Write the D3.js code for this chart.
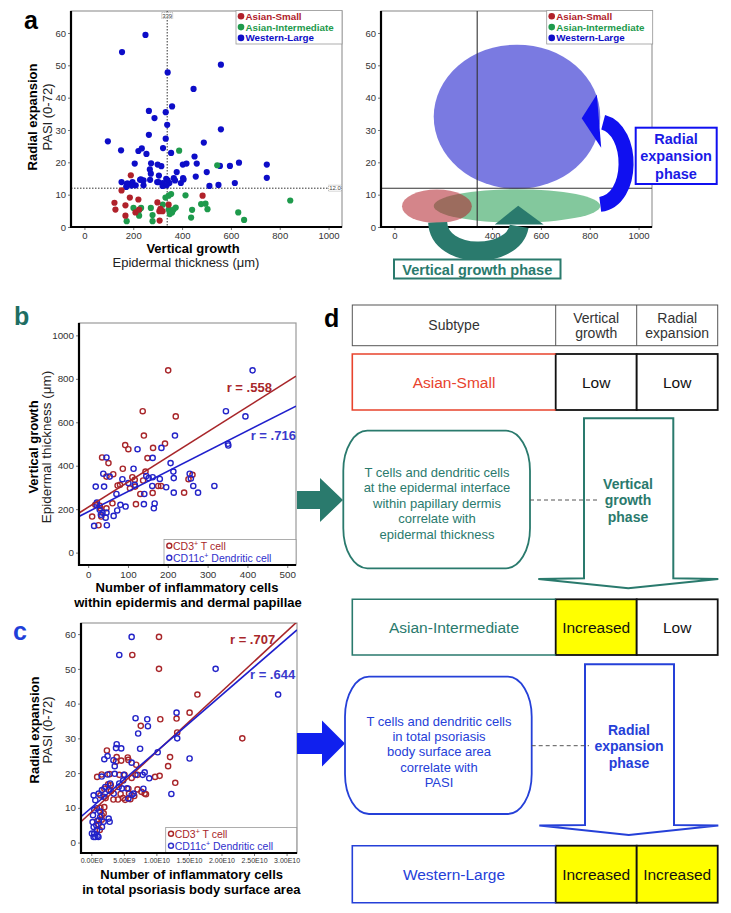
<!DOCTYPE html>
<html><head><meta charset="utf-8">
<script src="https://cdn.jsdelivr.net/npm/d3@7"></script>
<style>body{margin:0;background:#fff}svg{display:block}</style>
</head><body>
<script>
// ---------------- DATA ----------------
// Panel a: [epidermal thickness (µm), PASI]
const groups = ["Asian-Small", "Asian-Intermediate", "Western-Large"];
const asianSmall = [[190,16.0],[152,11.3],[484,9.7],[186,9.1],[221,8.5],[123,7.5],[168,6.7],[299,7.6],[345,6.9],[127,5.4],[209,4.5],[224,5.4],[311,5.6],[320,4.9],[307,4.9],[168,3.5],[308,2.0],[315,5.0]];
const asianIntermediate = [[388,23.6],[544,19.1],[355,10.2],[345,9.7],[332,9.1],[414,9.8],[843,8.2],[321,6.9],[478,7.1],[496,7.2],[504,5.5],[441,5.3],[201,5.9],[224,5.2],[232,5.9],[272,5.9],[345,5.4],[354,4.9],[365,5.4],[374,6.0],[350,4.0],[359,4.5],[630,4.5],[224,3.5],[279,3.7],[437,2.9],[654,2.2],[173,1.8],[279,1.8]];
const westernLarge = [[250,59.4],[154,54.1],[559,50.2],[341,47.8],[447,42.7],[264,35.9],[359,37.3],[333,35.5],[287,33.7],[339,31.6],[559,30.2],[264,28.5],[333,27.3],[96,26.5],[489,26.1],[150,23.7],[221,23.5],[235,24.3],[322,24.4],[254,22.6],[355,22.9],[451,21.8],[206,19.6],[273,19.7],[300,19.3],[315,18.8],[403,19.3],[418,19.6],[460,19.6],[555,18.9],[596,18.9],[633,19.9],[747,19.3],[268,17.8],[378,17.0],[501,17.0],[456,15.6],[272,16.5],[305,15.9],[404,15.1],[366,15.1],[335,14.9],[341,14.4],[152,13.9],[228,14.6],[242,14.4],[197,13.9],[178,13.4],[210,12.9],[171,12.4],[193,12.8],[242,12.9],[269,14.6],[298,13.9],[321,13.6],[348,13.6],[395,13.6],[320,12.7],[512,12.7],[549,13.0],[616,13.6],[747,15.2],[174,13.4],[231,14.7],[303,13.9],[337,12.9],[371,14.4],[406,14.7]];
const cutThickness = 339, cutPASI = 12.0;
const aXTicks = [0,200,400,600,800,1000];
const aYTicks = [0,10,20,30,40,50,60];
// Panel a right: ellipse summaries per group [Asian-Small, Asian-Intermediate, Western-Large]
const ellipseCX = [174, 502, 502];
const ellipseCY = [6.4, 6.5, 34.1];
const ellipseRX = [143, 341, 341];
const ellipseRY = [5.2, 5.2, 22.3];
// annotation arrows in data units of panel a
const vgArrowPath = [[177,1.45],[184,-10.2],[486,-10.2],[511,0.2]];
const vgArrowHead = [[411,0.8],[611,0.8],[507,6.6]];
const reArrowPath = [[843,7.0],[982,8.3],[982,29.9],[855,32.4]];
const reArrowHead = [[829,41.0],[847,24.5],[767,33.6]];

// Panel b: [number of cells, epidermal thickness]
const bTcell = [[201,839],[137,651],[140,539],[220,627],[93,495],[101,476],[163,482],[193,502],[149,435],[35,438],[51,412],[144,373],[87,386],[63,361],[46,350],[111,347],[117,335],[138,332],[80,312],[74,309],[105,296],[118,304],[176,307],[183,307],[131,270],[162,275],[241,276],[252,338],[262,358],[61,227],[120,223],[18,220],[29,215],[46,204],[10,166],[31,204],[26,126],[33,166]];
const bDcell = [[413,839],[346,651],[395,627],[218,539],[124,476],[184,482],[162,436],[46,438],[207,412],[114,386],[38,363],[54,350],[86,338],[101,320],[117,312],[146,353],[152,343],[162,347],[180,339],[214,373],[215,343],[255,363],[258,341],[264,307],[276,276],[317,307],[351,501],[352,493],[196,301],[215,276],[161,307],[141,270],[71,270],[73,194],[64,169],[94,212],[81,220],[140,223],[167,226],[165,204],[19,304],[40,304],[22,230],[29,197],[36,184],[46,184],[44,161],[15,123],[47,126],[21,220],[32,174]];
const bTFit = [209, 1.156], bDFit = [188, 0.932];   // [intercept, slope]
const bR = ["r = .558", "r = .716"];
const bXTicks = [0,100,200,300,400,500];
const bYTicks = [0,200,400,600,800,1000];

// Panel c: [number of cells (×1e9), PASI]
const cTcell = [[10.4,59.2],[6.3,54.0],[10.4,50.0],[16.3,42.6],[15.1,37.4],[13.1,35.7],[10.6,35.5],[13.2,31.7],[23.2,30.0],[7.6,33.6],[2.4,26.5],[3.8,23.3],[5.6,24.5],[5.7,23.8],[3.9,24.6],[4.6,23.6],[12.1,24.6],[11.8,22.0],[12.9,17.2],[10.5,19.2],[9.8,18.9],[7.1,19.5],[0.9,18.9],[1.6,19.6],[2.8,19.7],[4.3,19.5],[5.1,19.5],[1.4,13.6],[2.2,12.8],[3.4,12.4],[4.1,12.4],[4.9,12.8],[5.8,14.1],[6.6,13.4],[7.7,14.6],[8.2,14.1],[7.1,15.3],[5.7,15.5],[8.4,13.9],[6.9,22.4],[3.0,16.5],[2.0,15.5],[6.2,18.6],[1.9,8.4],[1.6,6.6],[1.4,10.0],[1.1,5.3],[0.9,6.2],[2.0,10.2],[1.3,3.6],[1.6,7.9],[3.0,14.8],[4.5,14.0],[5.2,12.3],[2.6,16.8],[6.0,12.5]];
const cDcell = [[6.2,59.2],[4.3,54.0],[19.1,50.0],[28.7,42.6],[15.1,24.2],[13.1,37.4],[13.2,30.0],[12.3,14.0],[6.8,35.8],[8.6,35.5],[8.7,33.5],[7.2,31.4],[7.5,27.0],[3.9,28.3],[3.8,27.2],[4.6,27.1],[2.0,24.0],[2.5,24.9],[3.4,23.7],[3.6,22.0],[6.2,23.0],[10.2,26.0],[7.9,19.5],[8.2,20.2],[8.9,18.5],[8.0,15.5],[6.8,19.5],[5.0,19.5],[3.6,19.8],[2.5,19.6],[1.6,19.0],[0.36,13.6],[0.62,12.2],[1.13,14.1],[2.15,16.0],[2.67,15.1],[3.44,14.1],[4.2,16.0],[4.7,15.6],[5.5,15.6],[6.2,13.7],[6.5,14.1],[5.7,12.7],[1.64,15.1],[2.9,17.0],[1.9,13.2],[4.9,17.9],[4.3,17.0],[0.2,5.9],[0.36,4.5],[0.46,2.6],[0.62,1.6],[0.87,3.5],[1.13,6.4],[0.26,7.9],[1.38,7.4],[0.77,5.0],[1.64,4.5],[2.67,6.9],[2.82,6.0],[0.36,1.6],[0.97,1.9],[1.9,6.0],[1.38,8.9],[0.87,9.9],[0.46,9.4],[0.1,2.6],[1.1,1.6]];
const cTFit = [8.74, 1.734], cDFit = [10.0, 1.62];   // PASI = a + b * cells(1e9)
const cR = ["r = .707", "r = .644"];
const cXTicks = [0, 5e9, 1e10, 1.5e10, 2e10, 2.5e10, 3e10];
const cXLabels = ["0.00E0","5.00E9","1.00E10","1.50E10","2.00E10","2.50E10","3.00E10"];
const cYTicks = [0,10,20,30,40,50,60];

// Panel d table
const tableHeader = ["Subtype", "Vertical\ngrowth", "Radial\nexpansion"];
const subtypes = ["Asian-Small", "Asian-Intermediate", "Western-Large"];
const verticalGrowth = ["Low", "Increased", "Increased"];
const radialExpansion = ["Low", "Low", "Increased"];
const vgText = ["T cells and dendritic cells","at the epidermal interface","within papillary dermis","correlate with","epidermal thickness"];
const reText = ["T cells and dendritic cells","in total psoriasis","body surface area","correlate with","PASI"];

// ---------------- DRAW ----------------
const FONT = '"Liberation Sans", Arial, Helvetica, sans-serif';
const svg = d3.select("body").append("svg").attr("width",731).attr("height",913).style("font-family",FONT);
const gColors = ["#b0212a","#1e9a4c","#0d0dc8"];
const TEAL = "#2a7a6d", DBLUE = "#2540d8", DRED = "#e8432d";
const RED = "#a8262a", BLUE = "#1f1fcc";

function T(x,y,s,o={}){
  const t = svg.append("text").attr("x",x).attr("y",y).text(s)
    .attr("font-size",o.size||12).attr("font-weight",o.bold?"bold":"normal")
    .attr("fill",o.fill||"#000").attr("text-anchor",o.anchor||"middle");
  if(o.rotate) t.attr("transform",`rotate(-90,${x},${y})`);
  return t;
}
let clipN = 0;
function frame(x,y){
  const [l,r]=x.range(), [b,t]=y.range();
  svg.append("rect").attr("x",l).attr("y",t).attr("width",r-l).attr("height",b-t)
    .attr("fill","#fff").attr("stroke","#9a9a9a").attr("stroke-width",1.2);
  const id = "clip"+(clipN++);
  svg.append("clipPath").attr("id",id).append("rect").attr("x",l).attr("y",t).attr("width",r-l).attr("height",b-t);
  return id;
}
function axes(x,y,xt,xl,yt,yl,fsx,fsy,xpad,ypad){
  const [l,r]=x.range(), [b,t]=y.range();
  const gx = svg.append("g").attr("transform",`translate(0,${b})`)
    .call(d3.axisBottom(x).tickValues(xt).tickFormat((d,i)=>xl[i]).tickSize(3).tickPadding(xpad));
  const gy = svg.append("g").attr("transform",`translate(${l},0)`)
    .call(d3.axisLeft(y).tickValues(yt).tickFormat((d,i)=>yl[i]).tickSize(3).tickPadding(ypad));
  gx.selectAll("text").attr("font-size",fsx);
  gy.selectAll("text").attr("font-size",fsy);
  [gx,gy].forEach(g=>{ g.select(".domain").remove(); g.selectAll("line").attr("stroke","#777");
    g.selectAll("text").attr("fill","#333").attr("font-family",FONT); });
  svg.append("line").attr("x1",l).attr("x2",l).attr("y1",t).attr("y2",b+1).attr("stroke","#000").attr("stroke-width",2.2);
  svg.append("line").attr("x1",l-1).attr("x2",r).attr("y1",b).attr("y2",b).attr("stroke","#000").attr("stroke-width",2.2);
}

// ===== Panel a (left) =====
const ax = d3.scaleLinear().domain([-55,1055]).range([71,342]);
const ay = d3.scaleLinear().domain([0,66.8]).range([227,11]);
frame(ax,ay);
svg.append("line").attr("x1",ax(cutThickness)).attr("x2",ax(cutThickness)).attr("y1",11).attr("y2",227)
  .attr("stroke","#333").attr("stroke-dasharray","1.5,1.5");
svg.append("line").attr("x1",71).attr("x2",342).attr("y1",ay(cutPASI)).attr("y2",ay(cutPASI))
  .attr("stroke","#333").attr("stroke-dasharray","1.5,1.5");
[westernLarge, asianIntermediate, asianSmall].forEach((arr,k)=>{
  const ci = 2-k;
  svg.append("g").selectAll("circle").data(arr).join("circle")
    .attr("cx",d=>ax(d[0])).attr("cy",d=>ay(d[1])).attr("r",3.1).attr("fill",gColors[ci]);
});
axes(ax,ay,aXTicks,aXTicks.map(String),aYTicks,aYTicks.map(String),9.5,9.5,2,2);
// reference value tags
svg.append("rect").attr("x",ax(cutThickness)-5.5).attr("y",12.5).attr("width",11).attr("height",6)
  .attr("fill","#fff").attr("stroke","#777").attr("stroke-width",0.6).attr("stroke-dasharray","1,1");
T(ax(cutThickness),17.5,String(cutThickness),{size:6,fill:"#444"});
svg.append("rect").attr("x",328.5).attr("y",ay(cutPASI)-3).attr("width",13).attr("height",6)
  .attr("fill","#fff").attr("stroke","#777").attr("stroke-width",0.6).attr("stroke-dasharray","1,1");
T(335,ay(cutPASI)+2.2,cutPASI.toFixed(1),{size:6,fill:"#444"});

function groupLegend(x0){
  svg.append("rect").attr("x",x0).attr("y",10.5).attr("width",106).attr("height",33.5)
    .attr("fill","#fff").attr("stroke","#999").attr("stroke-width",0.8);
  groups.forEach((g,i)=>{
    svg.append("circle").attr("cx",x0+5).attr("cy",16.3+i*10.8).attr("r",3.3).attr("fill",gColors[i]);
    T(x0+9.5,19.8+i*10.8,g,{size:9.8,bold:true,fill:gColors[i],anchor:"start"});
  });
}
groupLegend(236);

T(37,117,"Radial expansion",{size:13,bold:true,rotate:true});
T(52,117,"PASI (0-72)",{size:13,fill:"#222",rotate:true});
T(193,252.5,"Vertical growth",{size:13,bold:true});
T(186,267,"Epidermal thickness (\u03bcm)",{size:13,fill:"#222"});
T(24,29,"a",{size:25,bold:true,anchor:"start"});

// ===== Panel a (right) =====
const rx = d3.scaleLinear().domain([-55,1055]).range([381,652]);
const ry = ay;
frame(rx,ry);
[2,1,0].forEach(i=>{
  svg.append("ellipse").attr("cx",rx(ellipseCX[i])).attr("cy",ry(ellipseCY[i]))
    .attr("rx",rx(ellipseCX[i]+ellipseRX[i])-rx(ellipseCX[i]))
    .attr("ry",ry(0)-ry(ellipseRY[i]))
    .attr("fill",gColors[i]).attr("fill-opacity",0.55);
});
svg.append("line").attr("x1",rx(cutThickness)).attr("x2",rx(cutThickness)).attr("y1",11).attr("y2",227)
  .attr("stroke","#333").attr("stroke-width",1.1);
svg.append("line").attr("x1",381).attr("x2",652).attr("y1",ry(cutPASI)).attr("y2",ry(cutPASI))
  .attr("stroke","#333").attr("stroke-width",1.1);
axes(rx,ry,aXTicks,aXTicks.map(String),aYTicks,aYTicks.map(String),9.5,9.5,2,2);
groupLegend(546.7);

const cubic = pts => { const p = pts.map(d=>[rx(d[0]),ry(d[1])]);
  return `M${p[0]}C${p[1]} ${p[2]} ${p[3]}`; };
const tri = pts => "M"+pts.map(d=>[rx(d[0]),ry(d[1])].join(",")).join("L")+"Z";
svg.append("path").attr("d",cubic(vgArrowPath)).attr("fill","none").attr("stroke",TEAL).attr("stroke-width",19);
svg.append("path").attr("d",tri(vgArrowHead)).attr("fill",TEAL);
svg.append("path").attr("d",cubic(reArrowPath)).attr("fill","none").attr("stroke","#1010f0").attr("stroke-width",15);
svg.append("path").attr("d",tri(reArrowHead)).attr("fill","#1010f0");

svg.append("rect").attr("x",394).attr("y",259.5).attr("width",166.5).attr("height",19)
  .attr("fill","#fff").attr("stroke",TEAL).attr("stroke-width",2);
T(477.3,274.5,"Vertical growth phase",{size:14.5,bold:true,fill:TEAL});
svg.append("rect").attr("x",635.7).attr("y",127.7).attr("width",81).attr("height",56.3)
  .attr("fill","#fff").attr("stroke","#1010f0").attr("stroke-width",2);
["Radial","expansion","phase"].forEach((s,i)=>T(676,143.5+i*17.5,s,{size:14.5,bold:true,fill:"#1a1ae6"}));

// ===== Panel b =====
const bx = d3.scaleLinear().domain([-23,522]).range([79,296]);
const by = d3.scaleLinear().domain([-57,1057]).range([565,323]);
const bClip = frame(bx,by);
function fitLine(x,y,fit,col,clip){
  const [d0,d1]=x.domain();
  svg.append("line").attr("clip-path",`url(#${clip})`)
    .attr("x1",x(d0)).attr("y1",y(fit[0]+fit[1]*d0)).attr("x2",x(d1)).attr("y2",y(fit[0]+fit[1]*d1))
    .attr("stroke",col).attr("stroke-width",1.6);
}
function hollow(arr,x,y,col,scale=1){
  svg.append("g").selectAll("circle").data(arr).join("circle")
    .attr("cx",d=>x(d[0]*scale)).attr("cy",d=>y(d[1])).attr("r",2.6)
    .attr("fill","none").attr("stroke",col).attr("stroke-width",1.4);
}
hollow(bTcell,bx,by,"#a8262a");
hollow(bDcell,bx,by,"#2323c8");
fitLine(bx,by,bTFit,RED,bClip);
fitLine(bx,by,bDFit,BLUE,bClip);
T(226.7,392,bR[0],{size:13,bold:true,fill:"#a8262a",anchor:"start"});
T(250.7,440,bR[1],{size:13,bold:true,fill:"#3a3acc",anchor:"start"});
function cellLegend(x0,y0,x1,y1){
  svg.append("rect").attr("x",x0).attr("y",y0).attr("width",x1-x0).attr("height",y1-y0)
    .attr("fill","#fff").attr("stroke","#999").attr("stroke-width",0.8);
  const rows=[["CD3","+"," T cell","#a8262a"],["CD11c","+"," Dendritic cell","#3030cc"]];
  rows.forEach((r,i)=>{
    const cy = y0+6.2+i*12;
    svg.append("circle").attr("cx",x0+5.3).attr("cy",cy).attr("r",2.5).attr("fill","none").attr("stroke",r[3]).attr("stroke-width",1.4);
    const t = svg.append("text").attr("x",x0+9).attr("y",cy+3.8).attr("font-size",10.5).attr("fill",r[3]);
    t.append("tspan").text(r[0]);
    t.append("tspan").text(r[1]).attr("font-size",7).attr("dy",-3.5);
    t.append("tspan").text(r[2]).attr("dy",3.5);
  });
}
cellLegend(164,539.5,296,565);
axes(bx,by,bXTicks,bXTicks.map(String),bYTicks,bYTicks.map(String),9.8,9.8,3,2);
T(38,447,"Vertical growth",{size:13,bold:true,rotate:true});
T(51,447,"Epidermal thickness (\u03bcm)",{size:13.5,fill:"#222",rotate:true});
T(187,592,"Number of inflammatory cells",{size:13,bold:true});
T(188,607,"within epidermis and dermal papillae",{size:13,bold:true});
T(14,325,"b",{size:25,bold:true,fill:"#1e6e63",anchor:"start"});

// ===== Panel c =====
const cx = d3.scaleLinear().domain([-1.58e9,31.6e9]).range([81,297]);
const cy = d3.scaleLinear().domain([-3.0,63.2]).range([853,623]);
const cClip = frame(cx,cy);
hollow(cTcell,cx,cy,"#a8262a",1e9);
hollow(cDcell,cx,cy,"#2323c8",1e9);
const cFitScaled = f => [f[0], f[1]/1e9];
fitLine(cx,cy,cFitScaled(cTFit),RED,cClip);
fitLine(cx,cy,cFitScaled(cDFit),BLUE,cClip);
T(230,644,cR[0],{size:13,bold:true,fill:"#a8262a",anchor:"start"});
T(250,679,cR[1],{size:13,bold:true,fill:"#3a3acc",anchor:"start"});
cellLegend(165.7,827.5,296.7,853);
axes(cx,cy,cXTicks,cXLabels,cYTicks,cYTicks.map(String),7,9.8,2,2);
T(38.5,730,"Radial expansion",{size:13,bold:true,rotate:true});
T(52,730,"PASI (0-72)",{size:13,fill:"#222",rotate:true});
T(191.7,879,"Number of inflammatory cells",{size:13,bold:true});
T(191.3,893.5,"in total psoriasis body surface area",{size:13,bold:true});
T(13,640,"c",{size:25,bold:true,fill:"#1f3fd9",anchor:"start"});

// ===== connectors =====
function blockArrowRight(yc,half,headHalf,x0,xb,xt,col){
  svg.append("path").attr("d",`M${x0},${yc-half}L${xb},${yc-half}L${xb},${yc-headHalf}L${xt},${yc}L${xb},${yc+headHalf}L${xb},${yc+half}L${x0},${yc+half}Z`).attr("fill",col);
}
blockArrowRight(500,9,22,297,320,343,TEAL);
blockArrowRight(743.5,10.5,23,297,322,345,"#1020ee");

// ===== Panel d =====
T(324,327,"d",{size:25,bold:true,anchor:"start"});
const cols = [352.3,555.7,636.7,717.7];
// header
svg.append("rect").attr("x",cols[0]).attr("y",305).attr("width",cols[3]-cols[0]).attr("height",40.7)
  .attr("fill","#fff").attr("stroke","#555").attr("stroke-width",1);
[1,2].forEach(i=>svg.append("line").attr("x1",cols[i]).attr("x2",cols[i]).attr("y1",305).attr("y2",345.7).attr("stroke","#555"));
tableHeader.forEach((h,i)=>{
  const cxm=(cols[i]+cols[i+1])/2; const lines=h.split("\n");
  if(lines.length===1) T(cxm,330,lines[0],{size:14,fill:"#333"});
  else lines.forEach((s,j)=>T(cxm,322.5+j*15,s,{size:14,fill:"#333"}));
});
const rowY = [[354,410],[599.3,655],[845.7,902.7]];
const rowCol = [DRED, TEAL, DBLUE];
rowY.forEach((r,i)=>{
  const h=r[1]-r[0];
  [verticalGrowth[i],radialExpansion[i]].forEach((v,j)=>{
    svg.append("rect").attr("x",cols[j+1]).attr("y",r[0]).attr("width",cols[j+2]-cols[j+1]).attr("height",h)
      .attr("fill",v==="Increased"?"#ffff00":"#fff").attr("stroke","#111").attr("stroke-width",1.8);
    T((cols[j+1]+cols[j+2])/2,(r[0]+r[1])/2+5.5,v,{size:15.5,fill:"#111"});
  });
  svg.append("path").attr("d",`M${cols[1]},${r[0]}L${cols[0]},${r[0]}L${cols[0]},${r[1]}L${cols[1]},${r[1]}`)
    .attr("fill","none").attr("stroke",rowCol[i]).attr("stroke-width",1.6);
  T((cols[0]+cols[1])/2,(r[0]+r[1])/2+5.5,subtypes[i],{size:15.5,fill:rowCol[i]});
});
// block arrows
function downArrow(x0,x1,top,shaftB,w0,w1,wy,tipY,col){
  const tx=(w0+w1)/2;
  svg.append("path").attr("d",`M${x0},${top}L${x1},${top}L${x1},${shaftB}L${w1},${wy}L${tx},${tipY}L${w0},${wy}L${x0},${shaftB}Z`)
    .attr("fill","#fff").attr("stroke",col).attr("stroke-width",2).attr("stroke-linejoin","miter");
}
downArrow(584,673.3,418.3,578.3,538.3,718.3,579,588.3,TEAL);
downArrow(585,674,664.3,825,539.3,718.3,825.5,835,DBLUE);
["Vertical","growth","phase"].forEach((s,i)=>T(628,488.5+i*16.7,s,{size:14,bold:true,fill:TEAL}));
["Radial","expansion","phase"].forEach((s,i)=>T(629,734.5+i*16.5,s,{size:14,bold:true,fill:DBLUE}));
// rounded description boxes
svg.append("rect").attr("x",343.3).attr("y",430.7).attr("width",186.7).attr("height",137.6).attr("rx",24).attr("ry",40)
  .attr("fill","#fff").attr("stroke",TEAL).attr("stroke-width",1.8);
vgText.forEach((s,i)=>T(437,477+i*15.4,s,{size:13,fill:TEAL}));
svg.append("rect").attr("x",345).attr("y",676.7).attr("width",186.7).attr("height",137.3).attr("rx",24).attr("ry",40)
  .attr("fill","#fff").attr("stroke",DBLUE).attr("stroke-width",1.8);
reText.forEach((s,i)=>T(439,726+i*15.2,s,{size:13,fill:DBLUE}));
svg.append("line").attr("x1",530).attr("x2",599).attr("y1",500).attr("y2",500).attr("stroke","#555").attr("stroke-dasharray","4,3");
svg.append("line").attr("x1",531.7).attr("x2",589).attr("y1",745.7).attr("y2",745.7).attr("stroke","#555").attr("stroke-dasharray","4,3");
</script>
</body></html>
